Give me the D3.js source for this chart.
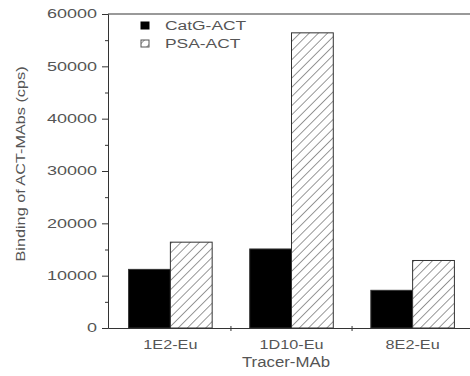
<!DOCTYPE html>
<html>
<head>
<meta charset="utf-8">
<script src="https://cdn.jsdelivr.net/npm/d3@7"></script>
<style>
  body { margin: 0; background: #fff; }
  svg text { font-family: "Liberation Sans", Arial, sans-serif; fill: #555; }
</style>
</head>
<body>
<div id="chart"></div>
<script>
const categories = ['1E2-Eu', '1D10-Eu', '8E2-Eu'];
const seriesNames = ['CatG-ACT', 'PSA-ACT'];
const catgValues = [11200, 15100, 7200];
const psaValues = [16400, 56400, 12900];
const yTicks = [0, 10000, 20000, 30000, 40000, 50000, 60000];
const yMinorTicks = [5000, 15000, 25000, 35000, 45000, 55000];

const width = 470, height = 376;
const margin = { top: 14, right: -5, bottom: 48, left: 108 };

const svg = d3.select('#chart').append('svg')
  .attr('width', width)
  .attr('height', height);

// hatch pattern for PSA bars
const defs = svg.append('defs');
const pat = defs.append('pattern')
  .attr('id', 'hatch')
  .attr('patternUnits', 'userSpaceOnUse')
  .attr('width', 6.5)
  .attr('height', 6.5)
  .attr('patternTransform', 'rotate(45)');
pat.append('rect').attr('width', 6.5).attr('height', 6.5).attr('fill', '#fff');
pat.append('line')
  .attr('x1', 0).attr('y1', 0).attr('x2', 0).attr('y2', 6.5)
  .attr('stroke', '#444').attr('stroke-width', 1.1);

const x0 = d3.scaleBand()
  .domain(categories)
  .range([margin.left, width - margin.right])
  .paddingInner(0.31)
  .paddingOuter(0.17);

const x1 = d3.scaleBand()
  .domain(seriesNames)
  .range([0, x0.bandwidth()]);

const y = d3.scaleLinear()
  .domain([0, 60000])
  .range([height - margin.bottom, margin.top]);

// stretch text horizontally to mimic the wide original font
function stretch(sel, k) {
  sel.each(function() {
    const len = this.getComputedTextLength();
    d3.select(this).attr('textLength', len * k).attr('lengthAdjust', 'spacingAndGlyphs');
  });
}

// top frame line
svg.append('line')
  .attr('x1', margin.left).attr('x2', width)
  .attr('y1', margin.top).attr('y2', margin.top)
  .attr('stroke', '#777').attr('stroke-width', 1.5);

// bars
const rows = categories.map((c, i) => ({ cat: c, values: [catgValues[i], psaValues[i]] }));
const groups = svg.append('g').selectAll('g')
  .data(rows)
  .join('g')
  .attr('transform', d => `translate(${x0(d.cat)},0)`);

groups.selectAll('rect')
  .data(d => d.values.map((v, j) => ({ key: seriesNames[j], value: v })))
  .join('rect')
  .attr('x', d => x1(d.key))
  .attr('y', d => y(d.value))
  .attr('width', x1.bandwidth())
  .attr('height', d => y(0) - y(d.value))
  .attr('fill', d => d.key === 'CatG-ACT' ? '#000' : 'url(#hatch)')
  .attr('stroke', '#333')
  .attr('stroke-width', 1);

// y axis
const yAxis = svg.append('g')
  .attr('transform', `translate(${margin.left},0)`)
  .call(d3.axisLeft(y).tickValues(yTicks).tickFormat(d3.format('d')).tickSize(6).tickPadding(5));
yAxis.select('.domain').attr('stroke', '#333');
yAxis.selectAll('.tick line').attr('stroke', '#333');
yAxis.selectAll('text').attr('font-size', 12);
stretch(yAxis.selectAll('text'), 1.5);

svg.append('g')
  .attr('transform', `translate(${margin.left},0)`)
  .call(d3.axisLeft(y).tickValues(yMinorTicks).tickFormat('').tickSize(3))
  .call(g => g.select('.domain').remove())
  .selectAll('.tick line').attr('stroke', '#333');

// x axis
const xAxis = svg.append('g')
  .attr('transform', `translate(0,${y(0)})`)
  .call(d3.axisBottom(x0).tickSize(0).tickPadding(12));
xAxis.select('.domain').attr('stroke', '#333');
xAxis.selectAll('text').attr('font-size', 12);
stretch(xAxis.selectAll('text'), 1.35);

// small ticks between categories
const between = categories.slice(1).map(c => x0(c) - x0.step() * x0.paddingInner() / 2);
svg.append('g').selectAll('line')
  .data(between)
  .join('line')
  .attr('x1', d => d).attr('x2', d => d)
  .attr('y1', y(0) - 2).attr('y2', y(0) + 3)
  .attr('stroke', '#333');

// axis titles
const xTitle = svg.append('text')
  .attr('x', 286)
  .attr('y', 367)
  .attr('text-anchor', 'middle')
  .attr('font-size', 14)
  .text('Tracer-MAb');
stretch(xTitle, 1.2);

const yTitle = svg.append('text')
  .attr('transform', `translate(25,${(68 + 260) / 2}) rotate(-90)`)
  .attr('text-anchor', 'middle')
  .attr('font-size', 13)
  .text('Binding of ACT-MAbs (cps)');
stretch(yTitle, 1.25);

// legend
const legend = svg.append('g');
seriesNames.forEach((name, i) => {
  const ly = 22 + i * 18;
  legend.append('rect')
    .attr('x', 141).attr('y', ly)
    .attr('width', 8).attr('height', 7)
    .attr('fill', i === 0 ? '#000' : 'url(#hatch)')
    .attr('stroke', i === 0 ? '#000' : '#555');
  const t = legend.append('text')
    .attr('x', 165).attr('y', ly + 8)
    .attr('font-size', 12)
    .text(name);
  stretch(t, 1.45);
});
</script>
</body>
</html>
